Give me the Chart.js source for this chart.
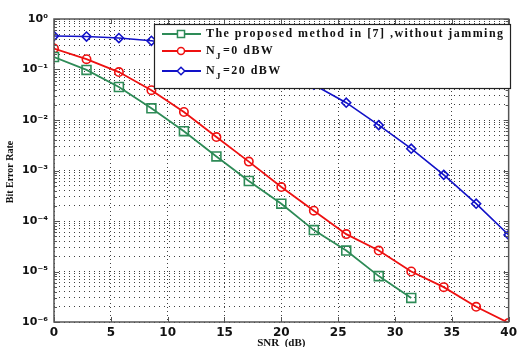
<!DOCTYPE html>
<html>
<head>
<meta charset="utf-8">
<script src="https://cdn.jsdelivr.net/npm/chart.js@4"></script>
<style>
  html, body { margin: 0; padding: 0; background: #fff; }
  #wrap { width: 521px; height: 347px; }
</style>
</head>
<body>
<div id="wrap"><canvas id="berChart"></canvas></div>
<script>
// SNR points (dB)
var snr = [0, 2.86, 5.71, 8.57, 11.43, 14.29, 17.14, 20, 22.86, 25.71, 28.57, 31.43, 34.29, 37.14, 40];

// BER curves
var berProposed = [0.177, 0.098, 0.045, 0.017, 0.006, 0.0019, 6.2e-4, 2.2e-4, 6.6e-5, 2.6e-5, 8.1e-6, 3.0e-6];
var berNj0 = [0.26, 0.16, 0.089, 0.039, 0.0144, 0.0046, 0.0015, 4.7e-4, 1.6e-4, 5.5e-5, 2.6e-5, 1.0e-5, 4.9e-6, 2.0e-6, 9.6e-7];
var berNj20 = [0.46, 0.45, 0.42, 0.37, 0.30, 0.22, 0.15, 0.09, 0.05, 0.022, 0.0079, 0.0027, 8.2e-4, 2.2e-4, 5.3e-5];

var seriesNames = ['The proposed method in [7] ,without jamming', 'N_J=0 dBW', 'N_J=20 dBW'];
var xTicks = [0, 5, 10, 15, 20, 25, 30, 35, 40];
var yDecades = [1, 1e-1, 1e-2, 1e-3, 1e-4, 1e-5, 1e-6];
var yTickLabels = ['10\u2070', '10\u207B\u00B9', '10\u207B\u00B2', '10\u207B\u00B3', '10\u207B\u2074', '10\u207B\u2075', '10\u207B\u2076'];

function pts(ys) {
  return ys.map(function (v, i) { return { x: snr[i], y: v }; });
}

var green = '#2e8b57', red = '#ee1111', blue = '#1212c8';

// frame + inner ticks like the matlab box
var boxPlugin = {
  id: 'box',
  afterDraw: function (chart) {
    var ctx = chart.ctx, a = chart.chartArea;
    var xs = chart.scales.x, ys = chart.scales.y;
    ctx.save();
    ctx.strokeStyle = '#555';
    ctx.lineWidth = 1;
    ys.ticks.forEach(function (t) {
      var y = Math.round(ys.getPixelForValue(t.value)) + 0.5;
      var len = yDecades.indexOf(t.value) >= 0 ? 5 : 3;
      ctx.beginPath();
      ctx.moveTo(a.left, y); ctx.lineTo(a.left + len, y);
      ctx.moveTo(a.right, y); ctx.lineTo(a.right - len, y);
      ctx.stroke();
    });
    xs.ticks.forEach(function (t) {
      var x = Math.round(xs.getPixelForValue(t.value)) + 0.5;
      ctx.beginPath();
      ctx.moveTo(x, a.top); ctx.lineTo(x, a.top + 5);
      ctx.moveTo(x, a.bottom); ctx.lineTo(x, a.bottom - 5);
      ctx.stroke();
    });
    ctx.lineWidth = 1.5;
    ctx.strokeRect(a.left, a.top, a.right - a.left, a.bottom - a.top);

    // axis titles
    ctx.fillStyle = '#111';
    ctx.font = 'bold 11px "Liberation Serif"';
    ctx.textAlign = 'center';
    ctx.textBaseline = 'top';
    ctx.fillText('SNR  (dB)', (a.left + a.right) / 2, 338);
    ctx.translate(10, 172);
    ctx.rotate(-Math.PI / 2);
    ctx.textBaseline = 'middle';
    ctx.font = 'bold 10px "Liberation Serif"';
    ctx.fillText('Bit Error Rate', 0, 0);
    ctx.restore();

    // legend
    ctx.save();
    var lx = 154, ly = 24, lw = 356, lh = 64;
    ctx.fillStyle = '#fff';
    ctx.fillRect(lx, ly, lw, lh);
    ctx.strokeStyle = '#222';
    ctx.lineWidth = 1.2;
    ctx.strokeRect(lx + 0.5, ly + 0.5, lw, lh);
    var rows = [34, 51, 71];
    var legR = [5, 3.5, 3.8];
    chart.data.datasets.forEach(function (ds, i) {
      var y = rows[i];
      ctx.strokeStyle = ds.borderColor;
      ctx.lineWidth = 1.8;
      ctx.beginPath();
      ctx.moveTo(162, y); ctx.lineTo(201, y);
      ctx.stroke();
      ctx.fillStyle = '#fff';
      ctx.lineWidth = 1.5;
      Chart.helpers.drawPoint(ctx, {
        pointStyle: ds.pointStyle, radius: legR[i], rotation: 0,
        borderWidth: 1.5
      }, 181, y);
      ctx.fillStyle = '#111';
      ctx.font = 'bold 12px "Liberation Serif"';
      ctx.letterSpacing = '1.45px';
      ctx.textAlign = 'left';
      ctx.textBaseline = 'middle';
      var parts = seriesNames[i].split('_J');
      var x = 206;
      ctx.fillText(parts[0], x, y);
      if (parts.length > 1) {
        x += ctx.measureText(parts[0]).width;
        ctx.font = 'bold 9px "Liberation Serif"';
        ctx.fillText('J', x, y + 6);
        x += ctx.measureText('J').width + 1;
        ctx.font = 'bold 12px "Liberation Serif"';
        ctx.fillText(parts[1], x, y);
      }
    });
    ctx.restore();
  }
};

var grid = {
  color: 'rgba(0,0,0,0.75)',
  lineWidth: 1,
  drawTicks: false
};

var ctx = document.getElementById('berChart').getContext('2d');
var berChart = new Chart(ctx, {
  type: 'line',
  data: {
    datasets: [{
      label: seriesNames[0],
      data: pts(berProposed),
      borderColor: green,
      backgroundColor: 'transparent',
      borderWidth: 1.8,
      pointStyle: 'rect',
      pointRadius: 6.3,
      pointBorderWidth: 1.6,
      pointBackgroundColor: 'transparent'
    }, {
      label: seriesNames[1],
      data: pts(berNj0),
      borderColor: red,
      backgroundColor: 'transparent',
      borderWidth: 1.8,
      pointStyle: 'circle',
      pointRadius: 4.2,
      pointBorderWidth: 1.6,
      pointBackgroundColor: 'transparent'
    }, {
      label: seriesNames[2],
      data: pts(berNj20),
      borderColor: blue,
      backgroundColor: 'transparent',
      borderWidth: 1.6,
      pointStyle: 'rectRot',
      pointRadius: 4.5,
      pointBorderWidth: 1.6,
      pointBackgroundColor: 'transparent'
    }]
  },
  options: {
    responsive: true,
    maintainAspectRatio: false,
    animation: false,
    layout: { padding: { top: 19, right: 6, left: 0, bottom: 0 } },
    plugins: {
      legend: { display: false },
      tooltip: { enabled: false }
    },
    scales: {
      x: {
        type: 'linear',
        min: 0,
        max: 40,
        afterBuildTicks: function (s) { s.ticks = xTicks.map(function (v) { return { value: v }; }); },
        afterFit: function (s) { s.height = 25; },
        grid: grid,
        border: { display: false, dash: [1, 3] },
        ticks: {
          padding: 4,
          color: '#111',
          font: { family: 'DejaVu Sans', weight: 'bold', size: 12 }
        }
      },
      y: {
        type: 'logarithmic',
        min: 1e-6,
        max: 1,
        afterBuildTicks: function (s) {
          var t = [];
          yDecades.forEach(function (d) {
            if (d === 1) { t.push({ value: 1 }); return; }
            for (var m = 1; m <= 9; m++) t.push({ value: +(m * d).toPrecision(3) });
          });
          s.ticks = t;
        },
        afterFit: function (s) { s.width = 54; },
        grid: grid,
        border: { display: false, dash: [1, 4] },
        ticks: {
          autoSkip: false,
          padding: 6,
          color: '#111',
          font: { family: 'DejaVu Sans', weight: 'bold', size: 11 },
          callback: function (v) {
            var k = yDecades.indexOf(v);
            return k >= 0 ? yTickLabels[k] : '';
          }
        }
      }
    }
  },
  plugins: [boxPlugin]
});
</script>
</body>
</html>
